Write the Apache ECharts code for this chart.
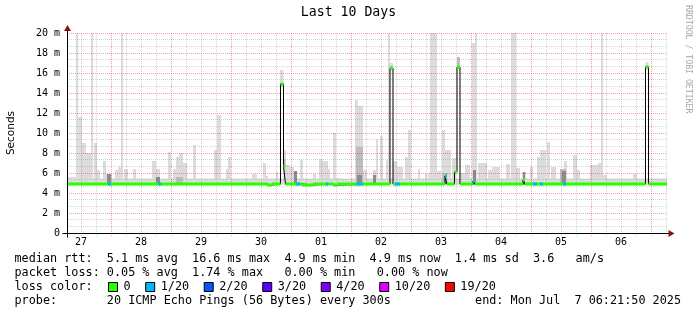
<!DOCTYPE html>
<html><head><meta charset="utf-8">
<script src="https://cdn.jsdelivr.net/npm/echarts@6/dist/echarts.min.js"></script>
<style>html,body{margin:0;padding:0;background:#fff}#c{width:697px;height:315px}</style>
</head><body><div id="c"></div>
<script>
// time unit: hours since 27 Jun 00:00 ; value unit: ms
const START_H = 6.364, END_H = 246.364;
const dayLabelHours = [12,36,60,84,108,132,156,180,204,228];
const dayLabels = ['27','28','29','30','01','02','03','04','05','06'];

// median rtt breakpoints [hour, ms] (value held until next point)
const medianPts = [[6.36,4.9],[86.36,4.8],[88.36,4.9],[91.76,14.9],[92.96,6.7],[93.76,4.9],
  [100.36,4.8],[104.76,4.9],[112.76,4.8],[114.36,4.9],[135.56,16.5],[136.76,4.9],
  [157.56,5.7],[158.36,4.9],[161.36,6.1],[162.36,16.6],[163.56,4.9],[168.76,5.2],[169.56,4.9],
  [188.76,5.3],[189.56,4.9],[237.76,16.6],[238.96,4.9],[246.36,4.9]];

// loss periods [startHour, endHour, lost pings of 20]
const lossSegs = [[22.76,23.96,1],[42.76,43.96,1],[97.96,99.56,1],[109.96,110.76,1],[121.96,124.76,1],
  [137.56,139.56,1],[157.56,158.36,1],[168.76,169.56,1],[192.76,194.36,1],[195.56,196.76,1],[204.76,205.96,1]];

// smoke [startHour, endHour, lowMs, highMs]
const smokeLight = [
 [6.36,246.36,4.8,5.45],[6.36,9.96,4.8,5.6],[9.96,10.88,4.8,20],[10.88,12.36,4.8,11.6],[12.36,13.96,4.8,9.0],
 [13.96,15.96,4.8,8.0],[15.96,16.86,4.8,20],[17.16,18.36,4.8,9.0],[18.36,19.56,4.8,6.3],[20.76,21.96,4.8,7.2],
 [21.96,24.36,4.8,5.9],[25.56,26.76,4.8,6.3],[26.76,27.96,4.8,6.6],[27.96,28.76,4.8,20],[29.16,30.76,4.8,6.4],
 [32.76,33.96,4.8,6.4],[40.36,41.96,4.8,7.2],[41.96,43.56,4.8,6.4],[46.76,47.96,4.8,8.1],[48.76,49.96,4.8,6.4],
 [49.96,51.16,4.8,7.6],[51.16,52.76,4.8,8.0],[52.76,54.36,4.8,7.0],[56.76,57.96,4.8,8.8],[62.36,64.36,4.8,5.3],
 [65.16,66.36,4.8,8.3],[66.36,67.96,4.8,11.8],[69.96,70.76,4.8,6.4],[70.76,71.96,4.8,7.6],[77.96,79.56,4.8,5.2],
 [80.36,82.36,4.8,5.9],[84.76,85.96,4.8,7.0],[85.96,86.76,4.8,5.7],[89.96,90.76,4.8,6.1],[91.56,92.96,14.6,16.3],
 [92.96,93.96,4.8,8.3],[93.96,95.56,4.8,6.8],[95.56,97.16,4.8,6.6],[97.16,98.36,4.8,6.2],[99.56,100.76,4.8,7.3],
 [101.96,103.56,4.8,5.3],[104.76,105.96,4.8,5.9],[107.16,108.76,4.8,7.4],[108.76,110.76,4.8,7.2],[110.76,111.56,4.8,6.4],
 [112.76,113.96,4.8,10.0],[114.36,115.96,4.8,5.5],[121.56,122.76,4.8,13.3],[122.76,124.76,4.8,12.7],[124.76,126.36,4.8,6.3],
 [128.76,129.96,4.8,6.3],[129.96,130.76,4.8,9.4],[131.56,132.76,4.8,9.7],[133.96,134.76,4.8,7.3],[134.76,135.56,4.8,20],
 [135.56,136.76,16.2,17.0],[136.76,138.36,4.8,7.2],[138.36,140.76,4.8,6.6],[141.56,142.76,4.8,7.6],[142.76,143.96,4.8,10.3],
 [146.76,147.56,4.8,6.4],[149.56,150.36,4.8,5.9],[150.76,151.56,4.8,6.0],[151.56,154.36,4.8,20],[154.36,155.96,4.8,6.2],
 [156.36,157.56,4.8,10.3],[157.56,159.96,4.8,8.3],[160.36,161.96,4.8,7.5],[163.56,165.56,4.8,6.0],[165.56,167.56,4.8,6.8],
 [168.36,169.56,4.8,19.0],[169.56,170.36,4.8,20],[170.76,174.36,4.8,7.0],[174.76,176.36,4.8,6.3],[176.36,179.56,4.8,6.6],
 [181.96,183.56,4.8,6.9],[183.96,185.96,4.8,20],[185.96,187.56,4.8,6.5],[188.36,189.96,4.8,6.1],[191.56,192.76,4.8,6.6],
 [194.36,195.56,4.8,7.6],[195.56,197.96,4.8,8.3],[198.36,199.56,4.8,9.1],[199.96,201.96,4.8,6.6],[203.56,206.36,4.8,6.4],
 [205.16,206.36,4.8,7.2],[208.76,210.36,4.8,7.8],[210.36,211.56,4.8,6.3],[215.56,218.76,4.8,6.8],[218.76,219.96,4.8,7.0],
 [219.96,220.76,4.8,20],[220.76,222.36,4.8,5.8],[232.76,234.36,4.8,5.9],[237.76,238.96,16.3,17.1]
];
const smokeMid = [
 [49.96,52.76,4.8,5.6],[92.96,93.76,6.6,7.4],[121.96,124.76,4.8,8.6],
 [162.36,163.56,16.4,17.6],[203.56,205.96,4.8,6.4],[156.36,158.36,4.8,6.0]
];
const smokeDark = [
 [22.36,23.96,4.8,5.9],[41.96,43.56,4.8,5.6],[97.16,98.36,4.8,6.2],[122.36,124.36,4.8,5.8],
 [128.76,129.96,4.8,5.8],[168.76,169.96,4.8,6.3],[188.76,189.56,4.8,6.1],[204.36,205.96,4.8,6.2]
];

const lossNames = ['0','1/20','2/20','3/20','4/20','10/20','19/20'];
const lossCounts = [0,1,2,3,4,10,19];
const lossColors = ['#26ff00','#00b8ff','#0059ff','#5e00ff','#7e00ff','#dd00ff','#ff0000'];

const legendLines = [
 'median rtt:  5.1 ms avg  16.6 ms max  4.9 ms min  4.9 ms now  1.4 ms sd  3.6   am/s',
 'packet loss: 0.05 % avg  1.74 % max   0.00 % min   0.00 % now',
 'loss color:',
 'probe:       20 ICMP Echo Pings (56 Bytes) every 300s'
];
const endText = 'end: Mon Jul  7 06:21:50 2025';

// ---- derived ----
function medianAt(h){ let v = medianPts[0][1]; for (const p of medianPts){ if (p[0] <= h + 1e-9) v = p[1]; } return v; }
const medianSegs = [];
for (let i = 0; i < medianPts.length - 1; i++) medianSegs.push([medianPts[i][0], medianPts[i+1][0], medianPts[i][1]]);
const vGridHours = [];
for (let h = 12; h < END_H; h += 6) vGridHours.push(h);

const chart = echarts.init(document.getElementById('c'), null, {renderer: 'canvas'});
const MONO = '"DejaVu Sans Mono", monospace';

function rectRender(params, api){
  const a = api.coord([api.value(0), api.value(3)]);
  const b = api.coord([api.value(1), api.value(2)]);
  return {type:'rect', shape:{x:a[0], y:a[1], width:b[0]-a[0], height:b[1]-a[1]}, style:{fill: api.visual('color')}};
}
function bandRender(params, api){
  const a = api.coord([api.value(0), api.value(2)]);
  const b = api.coord([api.value(1), api.value(2)]);
  return {type:'rect', shape:{x:a[0], y:a[1]-1.5, width:b[0]-a[0], height:3}, style:{fill: api.visual('color')}};
}
function vgridRender(params, api){
  const h = api.value(0);
  const top = api.coord([h, 20]), bot = api.coord([h, 0]);
  const x = Math.round(top[0]) + 0.5;
  const major = (Math.round(h) % 24) === 0;
  return {type:'line', shape:{x1:x, y1:top[1], x2:x, y2:bot[1] + 3},
    style:{stroke: major ? 'rgba(235,0,0,0.36)' : 'rgba(128,128,128,0.36)', lineWidth:1, lineDash:[1,1]}};
}

const series = [
  {type:'custom', name:'smokeLight', renderItem: rectRender, data: smokeLight, itemStyle:{color:'#dcdcdc'}, z:2, silent:true, clip:true,
   encode:{x:[0,1], y:[2,3]}},
  {type:'custom', name:'smokeMid', renderItem: rectRender, data: smokeMid, itemStyle:{color:'#bdbdbd'}, z:2, silent:true, clip:true,
   encode:{x:[0,1], y:[2,3]}},
  {type:'custom', name:'smokeDark', renderItem: rectRender, data: smokeDark, itemStyle:{color:'#8c8c8c'}, z:2, silent:true, clip:true,
   encode:{x:[0,1], y:[2,3]}},
  {type:'custom', name:'vgrid', renderItem: vgridRender, data: vGridHours.map(h => [h]), z:3, silent:true, clip:false,
   encode:{x:0}},
  {type:'line', name:'median', data: medianPts, step:'end', symbol:'none', z:4, silent:true,
   lineStyle:{color:'#000', width:1}, itemStyle:{color:'#000'}}
];
lossNames.forEach((nm, i) => {
  let data;
  if (lossCounts[i] === 0) data = medianSegs;
  else data = lossSegs.filter(s => s[2] === lossCounts[i]).map(s => [s[0], s[1], medianAt(s[0])]);
  series.push({type:'custom', name:nm, renderItem: bandRender, data: data, itemStyle:{color: lossColors[i]}, z:5, silent:true,
    encode:{x:[0,1], y:2}});
});

const option = {
  animation:false,
  backgroundColor:'#fff',
  title:{text:'Last 10 Days', left:'center', top:6, padding:0,
    textStyle:{fontFamily:MONO, fontSize:13.2, fontWeight:'normal', color:'#000'}},
  grid:{left:67, top:33, width:600, height:200, containLabel:false, outerBoundsMode:'none'},
  xAxis:{type:'value', min:START_H, max:END_H,
    axisLine:{show:false}, axisTick:{show:false}, splitLine:{show:false},
    axisLabel:{customValues: dayLabelHours, formatter: v => dayLabels[dayLabelHours.indexOf(Math.round(v))] || '',
      fontFamily:MONO, fontSize:10, color:'#000', margin:4}},
  yAxis:{type:'value', min:0, max:20, interval:2, z:3,
    name:'Seconds', nameLocation:'middle', nameGap:50, nameRotate:90,
    nameTextStyle:{fontFamily:'"DejaVu Sans", sans-serif', fontSize:10.5, color:'#000'},
    axisLine:{show:false}, axisTick:{show:false},
    axisLabel:{formatter: v => v === 0 ? '0' : v + ' m', fontFamily:MONO, fontSize:10, color:'#000', margin:7},
    splitLine:{show:true, lineStyle:{color:'rgba(235,0,0,0.36)', width:1, type:[1,1]}},
    minorTick:{show:false, splitNumber:3},
    minorSplitLine:{show:true, lineStyle:{color:'rgba(128,128,128,0.32)', width:1, type:[1,1]}}},
  legend:{data: lossNames, left:108, top:281, padding:0, itemGap:14.6, itemWidth:9, itemHeight:9, icon:'rect',
    selectedMode:false, itemStyle:{borderColor:'#000', borderWidth:1},
    textStyle:{fontFamily:MONO, fontSize:11.8, color:'#000', padding:[0,0,0,1]}},
  series: series
};
chart.setOption(option);

// decorations: axis lines with arrows, legend text, watermark
const p0 = chart.convertToPixel({gridIndex:0}, [START_H, 0]);
const p1 = chart.convertToPixel({gridIndex:0}, [END_H, 20]);
const ax = Math.round(p0[0]) + 0.5, ay = Math.round(p0[1]) + 0.5;
const arrowColor = '#8b1010';
const gfx = [
  {type:'line', shape:{x1:ax, y1:ay + 4, x2:ax, y2:p1[1] - 4}, style:{stroke:'#000', lineWidth:1}, z:10},
  {type:'line', shape:{x1:ax - 5, y1:ay, x2:p1[0] + 3, y2:ay}, style:{stroke:'#000', lineWidth:1}, z:10},
  {type:'polygon', shape:{points:[[ax, p1[1] - 8],[ax - 3.5, p1[1] - 2],[ax + 3.5, p1[1] - 2]]}, style:{fill:arrowColor}, z:10},
  {type:'polygon', shape:{points:[[p1[0] + 7.5, ay],[p1[0] + 1.5, ay - 3.5],[p1[0] + 1.5, ay + 3.5]]}, style:{fill:arrowColor}, z:10},
  {type:'text', x:692, y:5, rotation:-Math.PI/2,
    style:{text:'RRDTOOL / TOBI OETIKER', font:'8.2px ' + MONO, fill:'#a8a8a8', textAlign:'left', textVerticalAlign:'top', align:'left', verticalAlign:'top'}, z:10}
];
const lineY = [259, 273, 287, 301];
legendLines.forEach((t, i) => {
  gfx.push({type:'text', x:14.5, y:lineY[i],
    style:{text:t, font:'11.8px ' + MONO, fill:'#000', textAlign:'left', textVerticalAlign:'middle', align:'left', verticalAlign:'middle'}, z:10});
});
gfx.push({type:'text', x:681, y:lineY[3],
  style:{text:endText, font:'11.8px ' + MONO, fill:'#000', textAlign:'right', textVerticalAlign:'middle', align:'right', verticalAlign:'middle'}, z:10});
chart.setOption({graphic: gfx});
</script>
</body></html>
